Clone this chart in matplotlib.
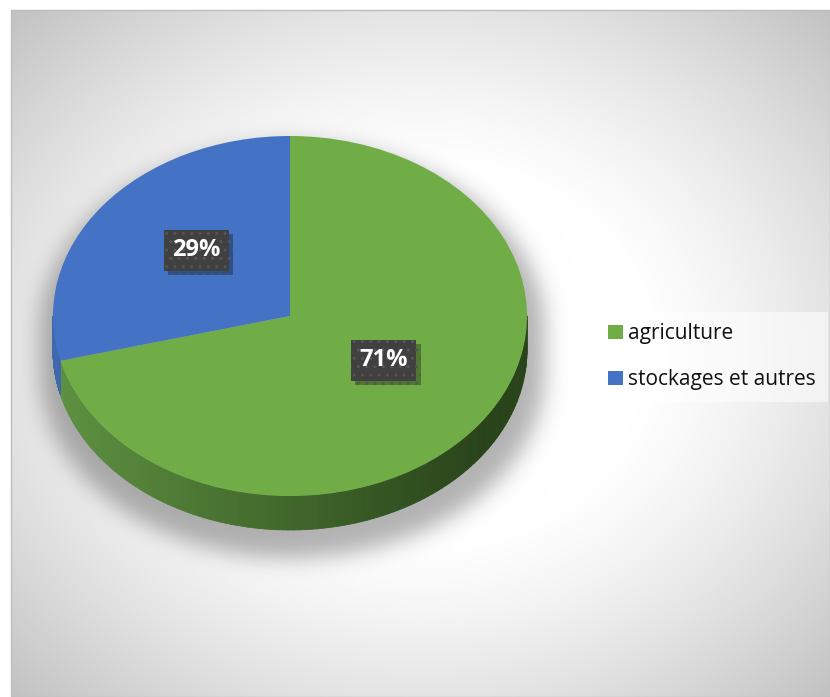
import numpy as np
import matplotlib
matplotlib.use('Agg')
import matplotlib.pyplot as plt
from matplotlib.collections import PolyCollection
from matplotlib.patches import Rectangle
import matplotlib.patheffects as pe
import matplotlib.colors as mcolors

# data
labels = ['agriculture', 'stockages et autres']
shares = [71, 29]
colors = ['#70AD47', '#4472C4']
side_light = ['#5e9241', '#4068ae']
side_dark = ['#29441a', '#233f70']

W, H = 830, 697
# pixel geometry of the pie top face
cx, cy, rx, ry = 290, 316, 237, 180
depth = 34
# chart area
x0, y0, x1, y1 = 11, 10, 830, 697


def blur(a, s):
    k = np.exp(-0.5 * (np.arange(-3 * s, 3 * s + 1) / s) ** 2)
    k /= k.sum()
    a = np.apply_along_axis(lambda r: np.convolve(r, k, mode='same'), 1, a)
    a = np.apply_along_axis(lambda r: np.convolve(r, k, mode='same'), 0, a)
    return a


yy, xx = np.mgrid[0:H, 0:W] + 0.5


def silhouette(ccx, ccy, rrx, rry, d):
    dx = (xx - ccx) / rrx
    h = rry * np.sqrt(np.clip(1 - dx ** 2, 0, None))
    return ((np.abs(dx) <= 1) & (yy >= ccy - h) & (yy <= ccy + d + h)).astype(float)


# radial gradient background
u = (xx - (x0 + x1) / 2) / ((x1 - x0) / 2)
v = (yy - (y0 + y1) / 2) / ((y1 - y0) / 2)
r = np.hypot(u, v)
shade = 1 - 0.29 * np.clip(r - 0.55, 0, None) ** 1.26

# soft shadow under the pie
sh = blur(silhouette(292, 330, 252, 186, 42), 11)
shade *= 1 - 0.3 * sh

img = np.where((xx >= x0) & (yy >= y0), shade, 1.0)
rgb = np.clip(np.dstack([img] * 3), 0, 1)

fig = plt.figure(figsize=(W / 100, H / 100), dpi=100)
bg = fig.add_axes([0, 0, 1, 1])
bg.imshow(rgb, extent=(0, W, H, 0), interpolation='bilinear')
bg.set_xlim(0, W)
bg.set_ylim(H, 0)
bg.axis('off')
bg.add_patch(Rectangle((x0, y0), x1 - x0, y1 - y0, fill=False, ec='#bdbdbd', lw=1))

ax = fig.add_axes([0, 0, 1, 1])
ax.patch.set_alpha(0)
wedges, _, autotexts = ax.pie(
    shares, colors=colors, startangle=90, counterclock=False,
    autopct='%1.0f%%', pctdistance=0.5,
    wedgeprops=dict(linewidth=0, edgecolor='none', zorder=3))
ax.set_aspect('auto')
ax.set_xlim(-cx / rx, (W - cx) / rx)
ax.set_ylim((cy - H) / ry, cy / ry)
ax.axis('off')

# extruded side of the pie (lower half only is visible)
d = depth / ry
for w, lt, dk in zip(wedges, side_light, side_dark):
    c_lt = np.array(mcolors.to_rgb(lt))
    c_dk = np.array(mcolors.to_rgb(dk))
    for off in (-360, 0, 360):
        lo = max(w.theta1 + off, -180)
        hi = min(w.theta2 + off, 0)
        if hi <= lo:
            continue
        a = np.radians(np.linspace(lo, hi, 120))
        quads, fcs = [], []
        for p, q in zip(a[:-1], a[1:]):
            quads.append([(np.cos(p), np.sin(p)), (np.cos(q), np.sin(q)),
                          (np.cos(q), np.sin(q) - d), (np.cos(p), np.sin(p) - d)])
            t = np.clip((np.cos((p + q) / 2) + 1) / 1.8, 0, 1)
            fcs.append(c_lt * (1 - t) + c_dk * t)
        ax.add_collection(PolyCollection(quads, facecolors=fcs, edgecolors=fcs,
                                         linewidths=0.6, zorder=2))

# percentage labels: dark dotted boxes with a drop shadow
lift = 0.06
font = ['Open Sans', 'DejaVu Sans']
for t in autotexts:
    x, y = t.get_position()
    t.set_position((x, y + lift))
    t.set_color('white')
    t.set_fontsize(17)
    t.set_fontweight('bold')
    t.set_family(font)
    t.set_zorder(6)
    t.set_bbox(dict(boxstyle='square,pad=0.36', fc='#404040', ec='#555555',
                    lw=0, hatch='..'))
    t.get_bbox_patch().set_path_effects(
        [pe.SimplePatchShadow(offset=(3, -3), shadow_rgbFace='black', alpha=0.3),
         pe.Normal()])

leg = ax.legend(wedges, labels, loc='center left',
                bbox_to_anchor=(597 / W, 1 - 357 / H), bbox_transform=fig.transFigure,
                prop=dict(family=font, size=15),
                handlelength=0.68, handleheight=0.68, handletextpad=0.28,
                labelspacing=1.2, borderpad=0.55, borderaxespad=0,
                frameon=True, fancybox=False, facecolor='white', framealpha=0.55,
                edgecolor='none')
for txt in leg.get_texts():
    txt.set_color('#111111')

fig.savefig('out.png', dpi=100)
